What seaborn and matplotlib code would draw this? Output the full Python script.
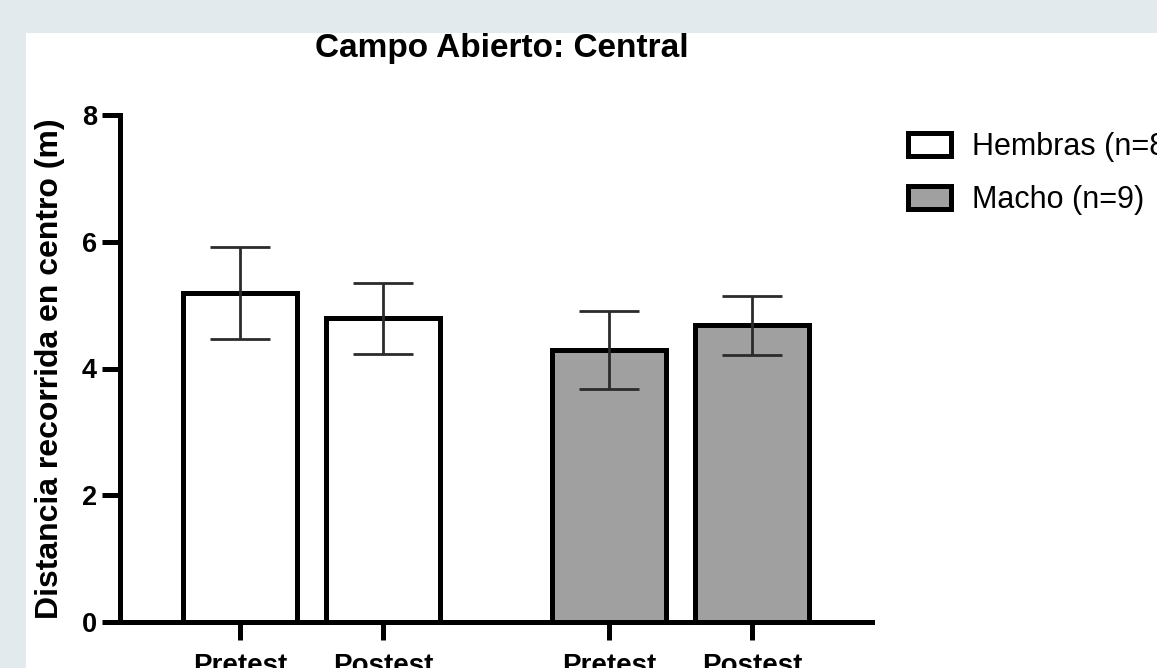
import pandas as pd
import numpy as np
import seaborn as sns
import matplotlib.pyplot as plt
from matplotlib.patches import Patch, Rectangle

# data
groups = ["Hembras", "Hembras", "Macho", "Macho"]
phases = ["Pretest", "Postest", "Pretest", "Postest"]
means = [5.19, 4.79, 4.29, 4.68]
sems = [0.73, 0.56, 0.61, 0.47]
legend_labels = ["Hembras (n=8)", "Macho (n=9)"]

W, H = 1157, 668
GAP = 0.58
gidx = {"Hembras": 0, "Macho": 1}
pos = [i % 2 + gidx[g] * (2 + GAP) for i, g in enumerate(groups)]
df = pd.DataFrame({"pos": pos, "mean": means, "group": groups})

sns.set_style("ticks")
plt.rcParams['font.family'] = ['Liberation Sans', 'DejaVu Sans']
plt.rcParams['text.color'] = 'black'
plt.rcParams['xtick.color'] = 'black'
plt.rcParams['ytick.color'] = 'black'

fig = plt.figure(figsize=(W / 100, H / 100), dpi=100)
fig.patch.set_facecolor('#e3eaee')
fig.patches.append(Rectangle((26 / W, 0), 1, (H - 33) / H, transform=fig.transFigure,
                             facecolor='white', edgecolor='none', zorder=-1))

ax = fig.add_axes([120 / W, (H - 622) / H, 752 / W, (622 - 115) / H])
ax.set_facecolor('none')
pal = {"Hembras": "white", "Macho": "#a0a0a0"}
sns.barplot(data=df, x="pos", y="mean", hue="group", native_scale=True, dodge=False,
            palette=pal, edgecolor='black', linewidth=3.6, width=0.8, errorbar=None,
            legend=False, ax=ax, zorder=3)
ax.errorbar(pos, means, yerr=sems, fmt='none', ecolor='#2b2b2b', elinewidth=2,
            capsize=21.6, capthick=2, zorder=5)

ax.set_xlim(-0.84, 4.42)
ax.set_ylim(0, 8)
ax.set_yticks([0, 2, 4, 6, 8])
ax.set_xticks(pos)
ax.set_xticklabels(phases)
for s in ['top', 'right']:
  ax.spines[s].set_visible(False)
for s in ['left', 'bottom']:
  ax.spines[s].set_linewidth(3.6)
  ax.spines[s].set_color('black')
ax.tick_params(axis='both', length=13, width=3.6, color='black', labelcolor='black')
ax.tick_params(axis='y', labelsize=19.5, pad=3.5)
ax.tick_params(axis='x', labelsize=20, pad=9.5)
for t in ax.get_xticklabels() + ax.get_yticklabels():
  t.set_fontweight('bold')

ax.set_xlabel('')
ax.set_ylabel('Distancia recorrida en centro (m)', fontsize=23, fontweight='bold', color='black')
ax.yaxis.set_label_coords(-0.073, 0.5)
ax.set_title('Campo Abierto: Central', fontsize=24, fontweight='bold', pad=41.8, x=0.508,
             color='black')

handles = [Patch(facecolor=pal[g], edgecolor='black', linewidth=3.6) for g in ["Hembras", "Macho"]]
fig.legend(handles, legend_labels, loc='upper left', bbox_to_anchor=(908 / W, (H - 132) / H),
           frameon=False, fontsize=22, handlelength=1.4, handleheight=0.8,
           handletextpad=0.68, labelspacing=0.75, borderpad=0, borderaxespad=0,
           labelcolor='black')

fig.savefig('out.png', dpi=100, facecolor=fig.get_facecolor())
